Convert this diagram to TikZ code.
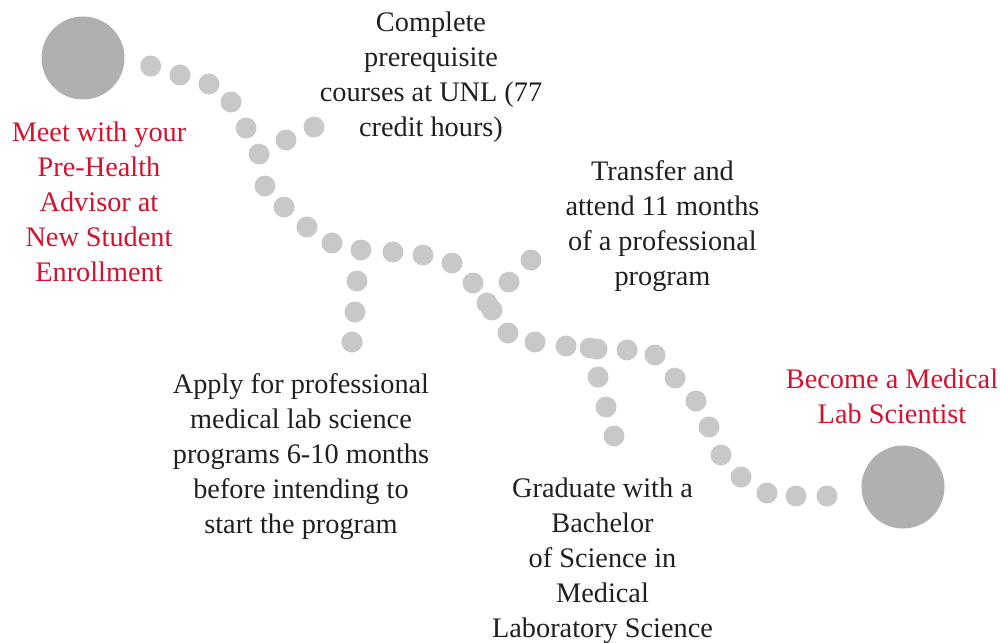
\documentclass[tikz,border=0pt]{standalone}
\usepackage{fontspec}
\setmainfont{Liberation Serif}
\definecolor{dotgray}{HTML}{C8C8C8}
\definecolor{biggray}{HTML}{B0B0B0}
\definecolor{crimson}{RGB}{210,18,46}
\definecolor{ink}{HTML}{231F20}
\tikzset{
  dot/.style={circle, fill=dotgray, draw=none, minimum size=21pt, inner sep=0pt},
  bigdot/.style={circle, fill=biggray, draw=none, minimum size=83pt, inner sep=0pt},
  label/.style={align=center, inner sep=0pt, font=\fontsize{28.3}{35}\selectfont, text=ink},
  redlabel/.style={label, text=crimson}
}
\begin{document}
\begin{tikzpicture}[x=1pt,y=-1pt]
\useasboundingbox (0,0) rectangle (1000,642);
% big circles
\node[bigdot] (start) at (83,58) {};
\node[bigdot] (finish) at (903,487) {};
% main path of dots
\foreach \x/\y [count=\i] in {150.7/66,180/75,209/84,231/102,246/128,259/154,265/186,284/207,307/227,332/243,361/250,393/252,423/255,452/263,473/283,487/303,492/310,508/333,535/342,566/346,590/348,597/349,627/350,655/355,675/378,696/401,709/427,721/455,741/477,767/493,796/496,827/496}
  \node[dot] (m\i) at (\x,\y) {};
% branch to "Complete prerequisite"
\node[dot] (a1) at (286,140) {};
\node[dot] (a2) at (314,127) {};
% branch to "Apply"
\node[dot] (b1) at (357,281) {};
\node[dot] (b2) at (355,312) {};
\node[dot] (b3) at (352,342) {};
% branch to "Transfer"
\node[dot] (c1) at (509,282) {};
\node[dot] (c2) at (531,260) {};
% branch to "Graduate"
\node[dot] (g1) at (598,377) {};
\node[dot] (g2) at (606,407) {};
\node[dot] (g3) at (614,436) {};
% labels
\node[redlabel] (meet) at (99,201.5) {Meet with your\\Pre-Health\\Advisor at\\New Student\\Enrollment};
\node[label] (complete) at (431,77) {Complete\\prerequisite\\courses at UNL (77\\credit hours)};
\node[label] (transfer) at (662.5,226) {Transfer and\\attend 11 months\\of a professional\\program};
\node[label] (apply) at (301,456.5) {Apply for professional\\medical lab science\\programs 6-10 months\\before intending to\\start the program};
\node[label] (graduate) at (602.5,560.5) {Graduate with a\\Bachelor\\of Science in\\Medical\\Laboratory Science};
\node[redlabel] (become) at (892,396) {Become a Medical\\Lab Scientist};
\end{tikzpicture}
\end{document}
